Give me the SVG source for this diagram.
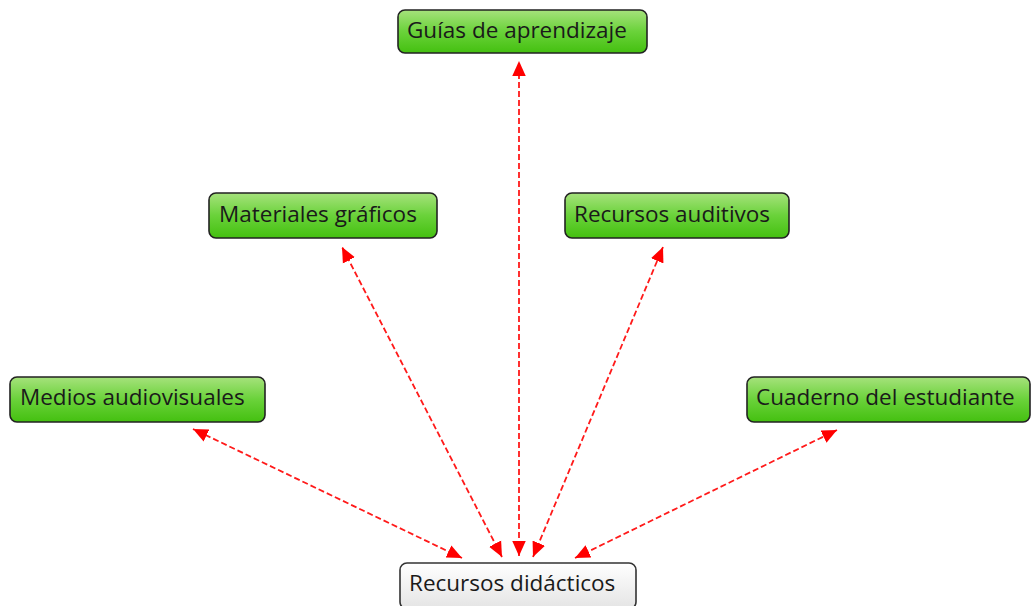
<svg xmlns="http://www.w3.org/2000/svg" width="1031" height="606" viewBox="0 0 1031 606">
<style>
.g{fill:url(#gg);stroke:#222;stroke-width:1.6}
.w{fill:url(#gw);stroke:#333;stroke-width:1.6}
text{font-family:"Open Sans","DejaVu Sans",sans-serif;font-size:22.5px;fill:#1a1a1a}
.c{stroke:#ff1a1a;stroke-width:1.8;stroke-dasharray:6,3;fill:none;marker-start:url(#a);marker-end:url(#a)}
</style>
<defs>
<linearGradient id="gg" x1="0" y1="0" x2="0" y2="1"><stop offset="0" stop-color="#a6e27c"/><stop offset="0.5" stop-color="#6ad23a"/><stop offset="1" stop-color="#44c010"/></linearGradient>
<linearGradient id="gw" x1="0" y1="0" x2="0" y2="1"><stop offset="0" stop-color="#ffffff"/><stop offset="1" stop-color="#e4e4e4"/></linearGradient>
<marker id="a" viewBox="0 0 10 10" refX="10" refY="5" markerWidth="15" markerHeight="15" markerUnits="userSpaceOnUse" orient="auto-start-reverse"><path d="M0,0.5L10,5L0,9.5z" fill="#ff0000"/></marker>
</defs>
<g id="connectors">
<line class="c" x1="519" y1="556" x2="519" y2="61"/>
<line class="c" x1="502" y1="557" x2="342" y2="247"/>
<line class="c" x1="533" y1="557" x2="663" y2="247"/>
<line class="c" x1="462" y1="558" x2="193" y2="429"/>
<line class="c" x1="575" y1="558" x2="837" y2="430"/>
</g>
<g id="guias"><rect class="g" x="398" y="10" width="249" height="43" rx="7"/><text x="407" y="38">Guías de aprendizaje</text></g>
<g id="materiales"><rect class="g" x="209" y="193" width="228" height="45" rx="7"/><text x="219" y="222">Materiales gráficos</text></g>
<g id="auditivos"><rect class="g" x="565" y="193" width="224" height="45" rx="7"/><text x="574" y="222">Recursos auditivos</text></g>
<g id="medios"><rect class="g" x="10" y="377" width="255" height="45" rx="7"/><text x="20" y="405">Medios audiovisuales</text></g>
<g id="cuaderno"><rect class="g" x="747" y="377" width="283" height="45" rx="7"/><text x="756" y="405">Cuaderno del estudiante</text></g>
<g id="recursos"><rect class="w" x="400" y="563" width="236" height="46" rx="7"/><text x="409" y="591">Recursos didácticos</text></g>
</svg>
